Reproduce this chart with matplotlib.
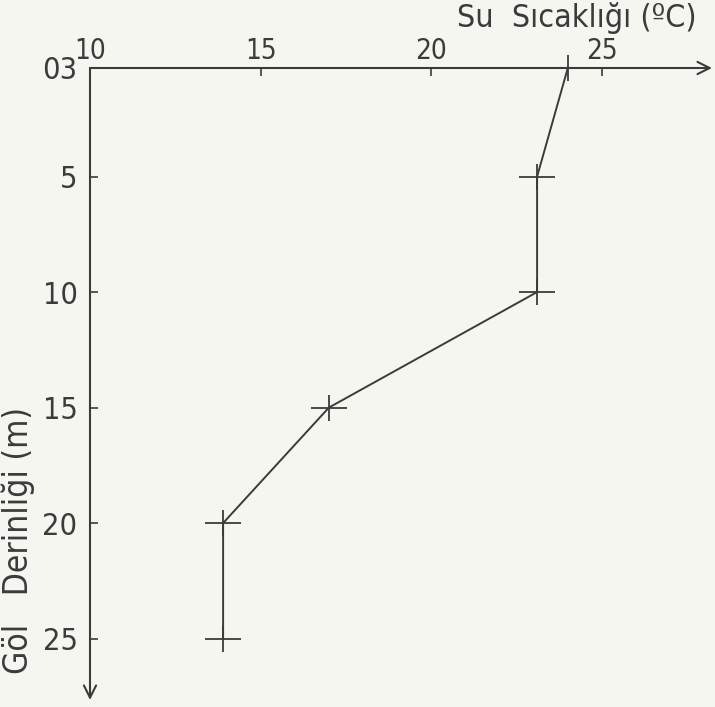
import matplotlib
matplotlib.use("Agg")
import matplotlib.pyplot as plt
from matplotlib.path import Path

# data
depths = [0.3, 5, 10, 15, 20, 25]
temps = [24.0, 23.1, 23.1, 17.0, 13.9, 13.9]
x_ticks = [10, 15, 20, 25]
x_tick_labels = ["10", "15", "20", "25"]
y_ticks = [0.3, 5, 10, 15, 20, 25]
y_tick_labels = ["03", "5", "10", "15", "20", "25"]
x_label = "Su  Sıcaklığı (ºC)"
y_label = "Göl   Derinliği (m)"

ink = "#3b3b3b"
bg = "#f6f6f1"
font = ["DejaVu Sans"]
fp = dict(family=font, stretch="condensed", color=ink)

fig = plt.figure(figsize=(7.15, 7.07), dpi=100, facecolor=bg)
ax = fig.add_axes([90/715, 1-700/707, (712-90)/715, (700-68)/707])
ax.set_facecolor(bg)
ax.set_xlim(10, 10 + (712-90)/34.13)
ax.set_ylim(0.3 + (700-68)/23.1, 0.3)

cross = Path([(-1, 0), (1, 0), (0, -0.7), (0, 0.7)],
             [Path.MOVETO, Path.LINETO, Path.MOVETO, Path.LINETO])
ax.plot(temps, depths, color=ink, lw=1.4, marker=cross, markersize=26,
        markeredgewidth=1.3, markerfacecolor="none", markeredgecolor=ink,
        clip_on=False)

for s in ax.spines.values():
    s.set_visible(False)
ax.annotate("", xy=(1, 1), xytext=(0, 1), xycoords="axes fraction",
            arrowprops=dict(arrowstyle="->", color=ink, lw=1.5,
                            mutation_scale=22, shrinkA=0, shrinkB=0))
ax.annotate("", xy=(0, 0), xytext=(0, 1), xycoords="axes fraction",
            arrowprops=dict(arrowstyle="->", color=ink, lw=1.5,
                            mutation_scale=22, shrinkA=0, shrinkB=0))

ax.xaxis.tick_top()
ax.set_xticks(x_ticks)
ax.set_xticklabels(x_tick_labels, fontsize=20, **fp)
ax.set_yticks(y_ticks)
ax.set_yticklabels(y_tick_labels, fontsize=22, **fp)
ax.tick_params(axis="x", direction="in", length=6, width=1.2, color=ink, pad=2)
ax.tick_params(axis="y", direction="in", length=6, width=1.2, color=ink, pad=9)

fig.text(697/715, 1-27/707, x_label, fontsize=23, ha="right", va="baseline", **fp)
fig.text(18/715, 1-540/707, y_label, fontsize=24, ha="center", va="center",
         rotation=90, **fp)

fig.savefig("out.png", dpi=100, facecolor=bg)
